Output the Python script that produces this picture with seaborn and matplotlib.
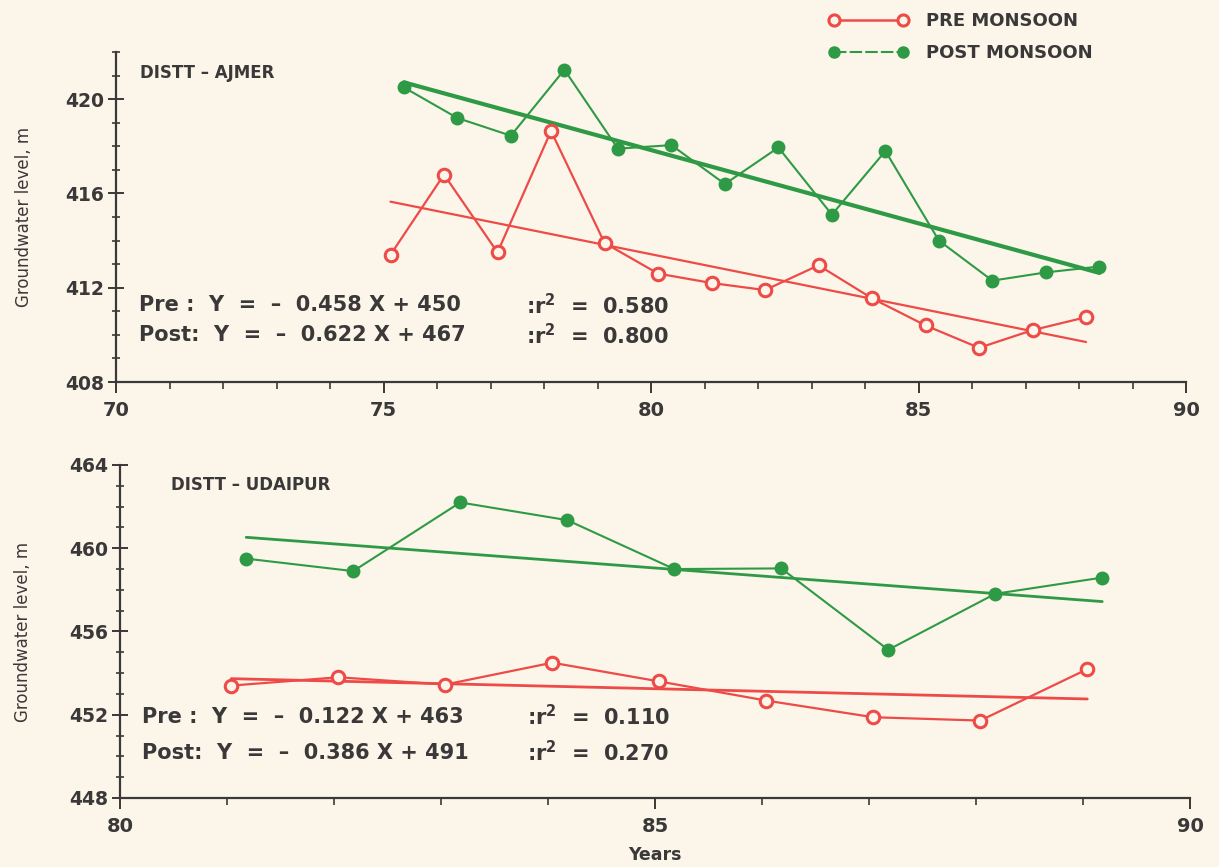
import numpy as np
import matplotlib
matplotlib.use("Agg")
import matplotlib.pyplot as plt
import seaborn as sns
from matplotlib.ticker import MultipleLocator
from matplotlib.lines import Line2D

# ---- Ajmer district: groundwater level (m), 1975-1988 ----
ajmer_pre_x = [75.13, 76.13, 77.13, 78.13, 79.13, 80.13, 81.13,
               82.13, 83.13, 84.13, 85.13, 86.13, 87.13, 88.13]
ajmer_pre_level = [413.4, 416.8, 413.5, 418.65, 413.9, 412.6, 412.2,
                   411.9, 412.95, 411.55, 410.4, 409.45, 410.2, 410.75]
ajmer_post_x = [75.38, 76.38, 77.38, 78.38, 79.38, 80.38, 81.38,
                82.38, 83.38, 84.38, 85.38, 86.38, 87.38, 88.38]
ajmer_post_level = [420.5, 419.2, 418.45, 421.25, 417.9, 418.05, 416.4,
                    417.95, 415.1, 417.8, 414.0, 412.3, 412.65, 412.9]

# ---- Udaipur district: groundwater level (m), 1981-1989 ----
udaipur_pre_x = [81.04, 82.04, 83.04, 84.04, 85.04, 86.04, 87.04, 88.04, 89.04]
udaipur_pre_level = [453.4, 453.8, 453.45, 454.5, 453.6, 452.68, 451.88, 451.72, 454.19]
udaipur_post_x = [81.18, 82.18, 83.18, 84.18, 85.18, 86.18, 87.18, 88.18, 89.18]
udaipur_post_level = [459.5, 458.9, 462.2, 461.35, 459.0, 459.03, 455.12, 457.81, 458.59]

# linear trends: (slope, intercept, r^2)
ajmer_pre_fit = (-0.458, 450.06, 0.580)
ajmer_post_fit = (-0.622, 467.6, 0.800)
udaipur_pre_fit = (-0.122, 463.62, 0.110)
udaipur_post_fit = (-0.386, 491.86, 0.270)

series_labels = ["PRE MONSOON", "POST MONSOON"]

PAPER = "#fbf6e9"
RED = "#ee4a48"
GREEN = "#2f9a45"
INK = "#3a3838"

sns.set_theme(style="ticks")
plt.rcParams["font.family"] = ["DejaVu Sans"]
plt.rcParams.update({
    "figure.facecolor": PAPER,
    "axes.facecolor": PAPER,
    "savefig.facecolor": PAPER,
    "axes.edgecolor": INK,
    "xtick.color": INK,
    "ytick.color": INK,
    "text.color": INK,
    "axes.labelcolor": INK,
    "font.weight": "bold",
    "mathtext.default": "regular",
})

fig = plt.figure(figsize=(12.19, 8.67), dpi=100)
ax_top = fig.add_axes([0.0952, 0.5594, 0.8778, 0.3806])
ax_bot = fig.add_axes([0.0984, 0.0796, 0.8778, 0.3841])


def draw_panel(ax, pre_x, pre_y, post_x, post_y, pre_fit, post_fit,
               post_fit_lw, pre_fit_lw):
    # observed levels
    sns.lineplot(x=pre_x, y=pre_y, ax=ax, color=RED, linewidth=1.6,
                 marker="o", markersize=9, markerfacecolor=PAPER,
                 markeredgecolor=RED, markeredgewidth=2.2, zorder=4)
    sns.lineplot(x=post_x, y=post_y, ax=ax, color=GREEN, linewidth=1.5,
                 marker="o", markersize=9, markerfacecolor=GREEN,
                 markeredgecolor=GREEN, markeredgewidth=1, zorder=4)
    # trend lines over the observed span
    fx = np.array([pre_x[0], pre_x[-1]])
    sns.lineplot(x=fx, y=pre_fit[0] * fx + pre_fit[1], ax=ax, color=RED,
                 linewidth=pre_fit_lw, zorder=3)
    gx = np.array([post_x[0], post_x[-1]])
    sns.lineplot(x=gx, y=post_fit[0] * gx + post_fit[1], ax=ax, color=GREEN,
                 linewidth=post_fit_lw, zorder=3)


def style_axes(ax, xlim, ylim, label_x):
    ax.set_xlim(*xlim)
    ax.set_ylim(*ylim)
    ax.xaxis.set_major_locator(MultipleLocator(5))
    ax.xaxis.set_minor_locator(MultipleLocator(1))
    ax.yaxis.set_major_locator(MultipleLocator(4))
    ax.yaxis.set_minor_locator(MultipleLocator(1))
    for side in ("top", "right"):
        ax.spines[side].set_visible(False)
    for side in ("left", "bottom"):
        ax.spines[side].set_linewidth(1.6)
    ax.tick_params(axis="y", which="major", direction="inout", length=11,
                   width=1.4, labelsize=13.5, pad=3)
    ax.tick_params(axis="y", which="minor", direction="inout", length=6,
                   width=1.2)
    ax.tick_params(axis="x", which="major", direction="out", length=8,
                   width=1.4, labelsize=14, pad=6)
    ax.tick_params(axis="x", which="minor", direction="out", length=5,
                   width=1.2)
    ax.set_ylabel("Groundwater level, m", fontsize=12, fontweight="normal")
    ax.yaxis.set_label_coords(label_x, 0.5)


def fit_text(ax, fit_pre, fit_post, y_pre, y_post, x_r2):
    fs = 15
    ax.text(0.021, y_pre,
            f"Pre :  Y  =  \u2013  {abs(fit_pre[0]):.3f} X + {int(fit_pre[1])}",
            transform=ax.transAxes, fontsize=fs, va="center", ha="left")
    ax.text(0.021, y_post,
            f"Post:  Y  =  \u2013  {abs(fit_post[0]):.3f} X + {int(fit_post[1])}",
            transform=ax.transAxes, fontsize=fs, va="center", ha="left")
    ax.text(x_r2, y_pre, f":r$^{{2}}$  =  {fit_pre[2]:.3f}",
            transform=ax.transAxes, fontsize=fs, va="center", ha="left")
    ax.text(x_r2, y_post, f":r$^{{2}}$  =  {fit_post[2]:.3f}",
            transform=ax.transAxes, fontsize=fs, va="center", ha="left")


draw_panel(ax_top, ajmer_pre_x, ajmer_pre_level, ajmer_post_x, ajmer_post_level,
           ajmer_pre_fit, ajmer_post_fit, post_fit_lw=3.0, pre_fit_lw=1.6)
style_axes(ax_top, (70, 90), (408, 422), -0.078)
ax_top.text(0.022, 0.935, "DISTT \u2013 AJMER", transform=ax_top.transAxes,
            fontsize=12, va="center", ha="left")
fit_text(ax_top, ajmer_pre_fit, ajmer_post_fit, 0.233, 0.142, 0.383)

draw_panel(ax_bot, udaipur_pre_x, udaipur_pre_level, udaipur_post_x, udaipur_post_level,
           udaipur_pre_fit, udaipur_post_fit, post_fit_lw=2.0, pre_fit_lw=2.0)
style_axes(ax_bot, (80, 90), (448, 464), -0.082)
ax_bot.text(0.048, 0.94, "DISTT \u2013 UDAIPUR", transform=ax_bot.transAxes,
            fontsize=12, va="center", ha="left")
fit_text(ax_bot, udaipur_pre_fit, udaipur_post_fit, 0.244, 0.135, 0.380)
ax_bot.set_xlabel("Years", fontsize=12.5, fontweight="bold")
ax_bot.xaxis.set_label_coords(0.5, -0.145)

# series key
handles = [
    Line2D([], [], color=RED, linewidth=1.8, marker="o", markersize=8,
           markerfacecolor=PAPER, markeredgecolor=RED, markeredgewidth=2.2),
    Line2D([], [], color=GREEN, linewidth=1.5, linestyle=(0, (6, 1.5)),
           marker="o", markersize=8, markerfacecolor=GREEN,
           markeredgecolor=GREEN),
]
fig.legend(handles, series_labels, loc="upper left",
           bbox_to_anchor=(0.674, 0.994), frameon=False, numpoints=2,
           handlelength=4.4, handletextpad=1.0, labelspacing=0.75,
           fontsize=13, borderaxespad=0.0)

fig.savefig("out.png", dpi=100)
